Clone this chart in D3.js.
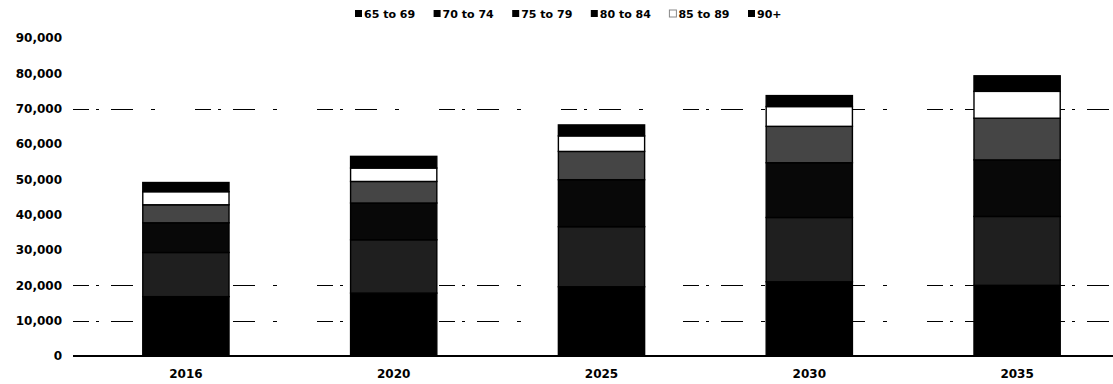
<!DOCTYPE html>
<html>
<head>
<meta charset="utf-8">
<script src="https://cdn.jsdelivr.net/npm/d3@7"></script>
<style>
  html, body { margin: 0; padding: 0; background: #fff; }
  svg { display: block; font-family: "DejaVu Sans", Verdana, sans-serif; }
</style>
</head>
<body>
<svg id="chart" width="1113" height="384"></svg>
<script>
// Projected population aged 65+, by age band
const years = ["2016", "2020", "2025", "2030", "2035"];
const ageBands = ["65 to 69", "70 to 74", "75 to 79", "80 to 84", "85 to 89", "90+"];
const age65to69 = [16800, 17800, 19600, 21000, 20000];
const age70to74 = [12500, 15100, 17000, 18200, 19500];
const age75to79 = [8400, 10400, 13300, 15500, 16000];
const age80to84 = [5100, 6100, 8000, 10300, 11800];
const age85to89 = [3700, 3800, 4400, 5600, 7600];
const age90plus = [2600, 3300, 3100, 3100, 4400];
const yTicks = [0, 10000, 20000, 30000, 40000, 50000, 60000, 70000, 80000, 90000];
const brokenGrid = [10000, 20000, 70000];

const seriesValues = [age65to69, age70to74, age75to79, age80to84, age85to89, age90plus];
const fills = ["#000000", "#1f1f1f", "#080808", "#454545", "#ffffff", "#000000"];

const rows = years.map((yr, i) => {
  const r = { year: yr };
  ageBands.forEach((b, k) => { r[b] = seriesValues[k][i]; });
  return r;
});

const svg = d3.select("#chart");
const labelFont = "DejaVu Sans, Verdana, sans-serif";

const x = d3.scaleBand().domain(years).range([82, 1121])
  .paddingInner(0.585).paddingOuter(0.2925);
const y = d3.scaleLinear().domain([0, 90000]).range([356, 38]);

// broken grid lines
svg.append("g").selectAll("line").data(brokenGrid).join("line")
  .attr("x1", 73).attr("x2", 1110)
  .attr("y1", d => Math.round(y(d)) + 0.5).attr("y2", d => Math.round(y(d)) + 0.5)
  .attr("stroke", "#000").attr("stroke-width", 1)
  .attr("stroke-dasharray", "16 7 3 12 22 18 4 40");

// stacked bars
const stack = d3.stack().keys(ageBands)(rows);
svg.append("g").selectAll("g").data(stack).join("g")
  .attr("fill", (d, i) => fills[i])
  .selectAll("rect").data(d => d).join("rect")
  .attr("x", d => x(d.data.year))
  .attr("width", x.bandwidth())
  .attr("y", d => y(d[1]))
  .attr("height", d => y(d[0]) - y(d[1]))
  .attr("stroke", "#000").attr("stroke-width", 1.4);

// y axis labels
const yAxis = d3.axisLeft(y).tickValues(yTicks).tickSize(0).tickPadding(0)
  .tickFormat(d3.format(","));
svg.append("g").attr("transform", "translate(62,0)").call(yAxis)
  .call(g => g.select(".domain").remove())
  .selectAll("text")
  .attr("font-size", 12).attr("font-weight", "bold").attr("fill", "#000")
  .attr("font-family", labelFont);

// x axis
const xAxis = d3.axisBottom(x).tickSize(0).tickPadding(13);
svg.append("g").attr("transform", "translate(0,356)").call(xAxis)
  .call(g => g.select(".domain").remove())
  .selectAll("text")
  .attr("font-size", 12).attr("font-weight", "bold").attr("fill", "#000")
  .attr("font-family", labelFont);
svg.append("line").attr("x1", 73).attr("x2", 1113).attr("y1", 356).attr("y2", 356)
  .attr("stroke", "#000").attr("stroke-width", 2);

// legend
const legendX = d3.scalePoint().domain(ageBands).range([355, 748]);
const lg = svg.append("g").selectAll("g").data(ageBands).join("g")
  .attr("transform", d => `translate(${legendX(d)},14)`);
lg.append("rect").attr("x", 0).attr("y", -4).attr("width", 7).attr("height", 7)
  .attr("fill", (d, i) => i === 4 ? "#fff" : "#000")
  .attr("stroke", (d, i) => i === 4 ? "#888" : "none");
lg.append("text").attr("x", 9).attr("y", 4)
  .attr("font-size", 11).attr("font-weight", "bold").attr("fill", "#000")
  .attr("font-family", labelFont)
  .text(d => d);
</script>
</body>
</html>
